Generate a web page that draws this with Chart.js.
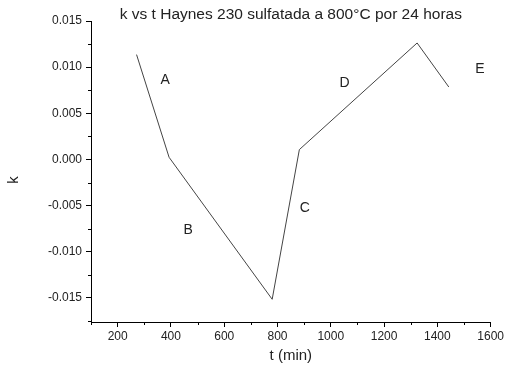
<!DOCTYPE html>
<html>
<head>
<meta charset="utf-8">
<script src="https://cdn.jsdelivr.net/npm/chart.js@4/dist/chart.umd.min.js"></script>
<style>
  html, body { margin: 0; padding: 0; background: #fff; }
  #wrap { width: 506px; height: 369px; }
</style>
</head>
<body>
<div id="wrap"><canvas id="c" width="506" height="369"></canvas></div>
<script>
// Data
const timeMin = [271, 393, 780, 882, 1324, 1443];
const kValues = [0.01136, 0.00024, -0.01514, 0.00107, 0.01262, 0.00785];

// Segment letters (placed in data coordinates)
const segLabels = ['A', 'B', 'C', 'D', 'E'];
const segLabelX = [378, 465, 902, 1052, 1560];
const segLabelY = [0.00858, -0.00769, -0.00530, 0.00825, 0.00977];

const chartTitle = 'k vs t Haynes 230 sulfatada a 800\u00B0C por 24 horas';
const xTitle = 't (min)';
const yTitle = 'k';

const FONT = '"Liberation Sans", Arial, sans-serif';
const TXT = '#222';

const decorations = {
  id: 'decorations',
  afterDraw(chart) {
    const ctx = chart.ctx;
    const xs = chart.scales.x, ys = chart.scales.y;
    const area = chart.chartArea;
    ctx.save();
    // minor ticks
    ctx.strokeStyle = '#000';
    ctx.lineWidth = 1;
    ys.ticks.forEach(t => {
      if (Math.abs(Math.round(t.value / 0.005) * 0.005 - t.value) > 1e-9) {
        const py = Math.round(ys.getPixelForValue(t.value)) + 0.5;
        ctx.beginPath(); ctx.moveTo(area.left - 3, py); ctx.lineTo(area.left, py); ctx.stroke();
      }
    });
    xs.ticks.forEach(t => {
      if (t.value % 200 !== 0) {
        const px = Math.round(xs.getPixelForValue(t.value)) + 0.5;
        ctx.beginPath(); ctx.moveTo(px, area.bottom); ctx.lineTo(px, area.bottom + 3); ctx.stroke();
      }
    });
    // segment letters
    ctx.fillStyle = TXT;
    ctx.font = '14px ' + FONT;
    ctx.textAlign = 'center';
    ctx.textBaseline = 'middle';
    segLabels.forEach((s, i) => {
      ctx.fillText(s, xs.getPixelForValue(segLabelX[i]), ys.getPixelForValue(segLabelY[i]));
    });
    // title
    ctx.font = '15.5px ' + FONT;
    ctx.fillText(chartTitle, (area.left + area.right) / 2, 15);
    // axis titles
    ctx.font = '15px ' + FONT;
    ctx.fillText(xTitle, (area.left + area.right) / 2, 356);
    ctx.translate(14, 180);
    ctx.rotate(-Math.PI / 2);
    ctx.fillText(yTitle, 0, 0);
    ctx.restore();
  }
};

new Chart(document.getElementById('c'), {
  type: 'line',
  data: {
    datasets: [{
      data: timeMin.map((t, i) => ({ x: t, y: kValues[i] })),
      borderColor: '#444',
      borderWidth: 1,
      pointRadius: 0,
      tension: 0,
      fill: false
    }]
  },
  options: {
    responsive: false,
    animation: false,
    devicePixelRatio: 1,
    layout: { padding: { top: 21, right: 13, left: 0, bottom: 0 } },
    plugins: { legend: { display: false }, title: { display: false }, tooltip: { enabled: false } },
    scales: {
      x: {
        type: 'linear',
        min: 100, max: 1600,
        afterFit(s) { s.height = 47; },
        ticks: {
          stepSize: 100,
          autoSkip: false,
          maxRotation: 0,
          padding: 2,
          color: TXT,
          font: { size: 12, family: FONT },
          callback: v => (v % 200 === 0 ? String(v) : '')
        },
        grid: {
          display: true,
          drawOnChartArea: false,
          drawTicks: true,
          tickLength: 5,
          tickColor: c => (c.tick && c.tick.value % 200 === 0 ? '#000' : 'rgba(0,0,0,0)')
        },
        border: { display: true, color: '#000', width: 1 }
      },
      y: {
        type: 'linear',
        min: -0.0176, max: 0.015,
        afterFit(s) { s.width = 91; },
        afterBuildTicks(s) {
          const arr = [];
          for (let i = -7; i <= 6; i++) arr.push({ value: +(i * 0.0025).toFixed(4) });
          s.ticks = arr;
        },
        ticks: {
          autoSkip: false,
          padding: 4,
          color: TXT,
          font: { size: 12, family: FONT },
          callback: v => {
            const r = Math.round(v / 0.005) * 0.005;
            if (Math.abs(r - v) > 1e-9) return '';
            return (Math.abs(v) < 1e-9 ? 0 : v).toFixed(3);
          }
        },
        grid: {
          display: true,
          drawOnChartArea: false,
          drawTicks: true,
          tickLength: 5,
          tickColor: c => {
            if (!c.tick) return '#000';
            const v = c.tick.value;
            return Math.abs(Math.round(v / 0.005) * 0.005 - v) > 1e-9 ? 'rgba(0,0,0,0)' : '#000';
          }
        },
        border: { display: true, color: '#000', width: 1 }
      }
    }
  },
  plugins: [decorations]
});
</script>
</body>
</html>
